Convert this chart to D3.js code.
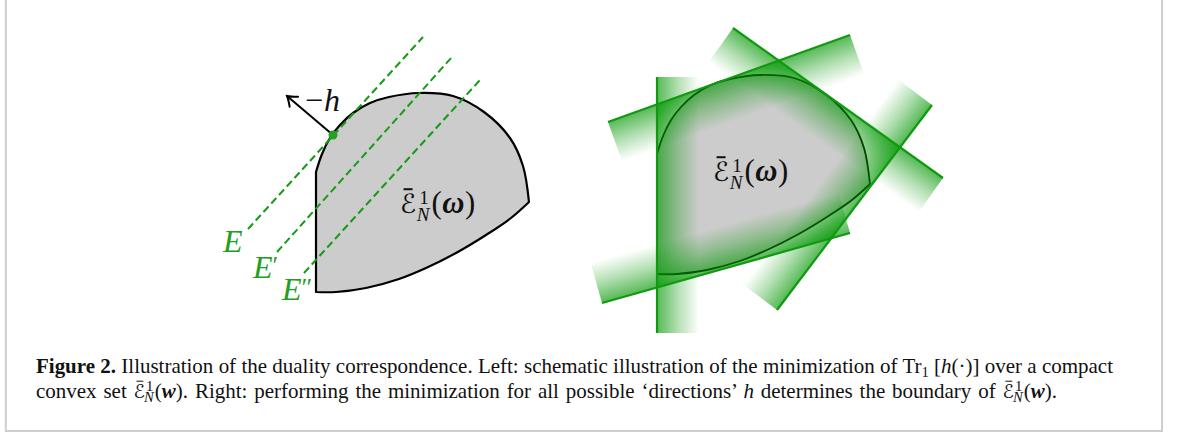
<!DOCTYPE html>
<html>
<head>
<meta charset="utf-8">
<script src="https://cdn.jsdelivr.net/npm/d3@7"></script>
<style>
  html, body { margin: 0; padding: 0; background: #ffffff; }
  svg { display: block; }
  text { white-space: pre; }
</style>
</head>
<body>
<svg id="fig" width="1179" height="436"></svg>
<script>
// ---------------------------------------------------------------
// Boundary of the convex set (schematic units, y pointing down).
// The straight left edge joins the end of lowerArc to the start of upperArc.
// ---------------------------------------------------------------
const upperArc = [[0, 80], [6, 62], [14, 46], [24, 33], [37, 21], [54, 11], [73, 5],
                  [103, 1], [137, 4], [168, 20], [194, 46], [207, 74], [213, 110]];
const lowerArc = [[213, 110], [195, 126], [170, 143], [140, 161], [110, 176],
                  [83, 187], [50, 196], [20, 200], [0, 200]];
const setCentre = [100, 110];

// Left panel: level sets E, E', E'' of the linear functional
const levelNames   = ["E", "E′", "E″"];
const levelStart   = [[-68, 137], [-39, 160], [-12, 181]];
const levelEnd     = [[107, -55], [136, -35], [164, -12]];
const levelLabelAt = [[-93, 160], [-63, 186], [-34, 208]];
const touchPoint   = [17, 43];
const arrowTip     = [-29, 4];
const arrowLabelAt = [-11, 19];
const arrowLabel   = "h";

// Right panel: supporting lines (each shades the half-plane holding the set)
const supportStart = [[0, 3], [-49, 48], [76, -46], [120, 236], [-55, 229]];
const supportEnd   = [[0, 259], [193, -39], [286, 104], [275, 31], [193, 159]];

// Where the set's name sits in each panel (schematic units, baseline)
const setLabelAt = { left: [84, 121], right: [56, 107] };

// Caption text, split into styled runs
const captionLine1 = [
  { t: "Figure 2.", k: "b" },
  { t: " Illustration of the duality correspondence. Left: schematic illustration of the minimization of Tr", k: "r" },
  { t: "1", k: "sub" },
  { t: " [", k: "r" },
  { t: "h", k: "i" },
  { t: "(·)] over a compact", k: "r" }
];
const captionLine2 = [
  { t: "convex set ", k: "r" },
  { t: "ℰ", k: "cal" },
  { t: ["1", "N"], k: "stack" },
  { t: "(", k: "r" },
  { t: "w", k: "bi" },
  { t: "). Right: performing the minimization for all possible ‘directions’ ", k: "r" },
  { t: "h", k: "i" },
  { t: " determines the boundary of ", k: "r" },
  { t: "ℰ", k: "cal" },
  { t: ["1", "N"], k: "stack" },
  { t: "(", k: "r" },
  { t: "w", k: "bi" },
  { t: ").", k: "r" }
];

// ---------------------------------------------------------------
const GREEN = "#0f9a0f";
const DASH_GREEN = "#169c16";
const LABEL_GREEN = "#1fa01f";
const SERIF = "Liberation Serif, DejaVu Serif, serif";
const CAL_FONT = "DejaVu Serif, DejaVu Sans, serif";

const svg = d3.select("#fig");
const defs = svg.append("defs");

// Frame around the figure
svg.append("path").attr("d", "M5.8,0V431H1162V0")
  .attr("stroke", "#cdcdcd").attr("stroke-width", 2).attr("fill", "none");

function panelScales(ox, oy) {
  return {
    x: d3.scaleLinear().domain([0, 214]).range([ox, ox + 214]),
    y: d3.scaleLinear().domain([0, 200]).range([oy, oy + 200])
  };
}
const leftS = panelScales(316, 92);
const rightS = panelScales(657, 74);

function shapePath(s) {
  const line = d3.line().x(d => s.x(d[0])).y(d => s.y(d[1]))
    .curve(d3.curveCatmullRom.alpha(0.5));
  const a = lowerArc[lowerArc.length - 1], b = upperArc[0];
  return `M${s.x(a[0])},${s.y(a[1])}L${s.x(b[0])},${s.y(b[1])}` +
    line(upperArc).replace(/^M/, "L") + line(lowerArc).replace(/^M/, "L") + "Z";
}

// Name of the set: barred calligraphic E with sup 1, sub N, then (omega)
function setName(g, x, base, fs, bodyChar) {
  const cal = g.append("text").attr("x", x).attr("y", base)
    .attr("font-family", CAL_FONT).attr("font-size", fs * 0.92).attr("fill", "#111").text("ℰ");
  const wc = cal.node().getComputedTextLength();
  g.append("line")
    .attr("x1", x + 0.22 * wc).attr("x2", x + 0.78 * wc)
    .attr("y1", base - 0.82 * fs).attr("y2", base - 0.82 * fs)
    .attr("stroke", "#111").attr("stroke-width", Math.max(1, fs * 0.07));
  const sfs = fs * 0.66;
  const sup = g.append("text").attr("x", x + wc + 3).attr("y", base - 0.3 * fs)
    .attr("font-family", SERIF).attr("font-size", sfs).attr("fill", "#111").text("1");
  const sub = g.append("text").attr("x", x + wc + 0.5).attr("y", base + 0.26 * fs)
    .attr("font-family", SERIF).attr("font-style", "italic").attr("font-size", sfs)
    .attr("fill", "#111").text("N");
  const ws = Math.max(sup.node().getComputedTextLength() + 3, sub.node().getComputedTextLength() + 0.5);
  const t = g.append("text").attr("x", x + wc + ws + 2).attr("y", base)
    .attr("font-family", SERIF).attr("font-size", fs * 1.06).attr("fill", "#111");
  t.append("tspan").text("(");
  t.append("tspan").attr("font-weight", "bold").attr("font-style", "italic").attr("dx", 0.5).text(bodyChar);
  t.append("tspan").attr("dx", 0.5).text(")");
}

// ---------------- Left panel ----------------
const L = svg.append("g");
L.append("path").attr("d", shapePath(leftS))
  .attr("fill", "#cccccc").attr("stroke", "#000").attr("stroke-width", 2.2)
  .attr("stroke-linejoin", "round");

levelStart.forEach((p, i) => {
  L.append("line")
    .attr("x1", leftS.x(p[0])).attr("y1", leftS.y(p[1]))
    .attr("x2", leftS.x(levelEnd[i][0])).attr("y2", leftS.y(levelEnd[i][1]))
    .attr("stroke", DASH_GREEN).attr("stroke-width", 2).attr("stroke-dasharray", "7.5,4");
  const lab = L.append("text")
    .attr("x", leftS.x(levelLabelAt[i][0])).attr("y", leftS.y(levelLabelAt[i][1]))
    .attr("font-family", SERIF).attr("font-style", "italic").attr("font-size", 32)
    .attr("fill", LABEL_GREEN);
  lab.append("tspan").text(levelNames[i][0]);
  if (levelNames[i].length > 1)
    lab.append("tspan").attr("dy", -4).attr("font-size", 26).attr("font-style", "normal").text(levelNames[i].slice(1));
});

defs.append("marker").attr("id", "head").attr("viewBox", "-12 -8 14 16")
  .attr("markerWidth", 14).attr("markerHeight", 16).attr("refX", 0).attr("refY", 0)
  .attr("orient", "auto").attr("markerUnits", "userSpaceOnUse")
  .append("path").attr("d", "M-9,-6.5Q-3,-1.5 0,0Q-3,1.5 -9,6.5")
  .attr("fill", "none").attr("stroke", "#000").attr("stroke-width", 2).attr("stroke-linecap", "round");

L.append("line")
  .attr("x1", leftS.x(touchPoint[0])).attr("y1", leftS.y(touchPoint[1]))
  .attr("x2", leftS.x(arrowTip[0])).attr("y2", leftS.y(arrowTip[1]))
  .attr("stroke", "#000").attr("stroke-width", 2).attr("marker-end", "url(#head)");
L.append("circle").attr("cx", leftS.x(touchPoint[0])).attr("cy", leftS.y(touchPoint[1]))
  .attr("r", 4.5).attr("fill", "#28a028");

const hl = L.append("text").attr("x", leftS.x(arrowLabelAt[0])).attr("y", leftS.y(arrowLabelAt[1]))
  .attr("font-family", SERIF).attr("font-size", 32).attr("fill", "#111");
hl.append("tspan").text("−");
hl.append("tspan").attr("font-style", "italic").attr("dx", 1).text(arrowLabel);

setName(L.append("g"), leftS.x(setLabelAt.left[0]), leftS.y(setLabelAt.left[1]), 29, "ω");

// ---------------- Right panel ----------------
const R = svg.append("g");
R.append("path").attr("d", shapePath(rightS))
  .attr("fill", "#cccccc").attr("stroke", "#000").attr("stroke-width", 1.8);

const bandWidth = 42;
const bands = R.append("g");
const lines = R.append("g");
supportStart.forEach((p, i) => {
  const A = [rightS.x(p[0]), rightS.y(p[1])];
  const B = [rightS.x(supportEnd[i][0]), rightS.y(supportEnd[i][1])];
  const dx = B[0] - A[0], dy = B[1] - A[1], len = Math.hypot(dx, dy);
  let n = [-dy / len, dx / len];
  const C = [rightS.x(setCentre[0]), rightS.y(setCentre[1])];
  if (n[0] * (C[0] - A[0]) + n[1] * (C[1] - A[1]) < 0) n = [-n[0], -n[1]];
  const off = [n[0] * bandWidth, n[1] * bandWidth];
  const gid = "band" + i;
  const grad = defs.append("linearGradient").attr("id", gid)
    .attr("gradientUnits", "userSpaceOnUse")
    .attr("x1", A[0]).attr("y1", A[1]).attr("x2", A[0] + off[0]).attr("y2", A[1] + off[1]);
  grad.append("stop").attr("offset", 0).attr("stop-color", "#009600").attr("stop-opacity", 0.66);
  grad.append("stop").attr("offset", 0.5).attr("stop-color", "#009600").attr("stop-opacity", 0.3);
  grad.append("stop").attr("offset", 1).attr("stop-color", "#009600").attr("stop-opacity", 0);
  bands.append("path")
    .attr("d", `M${A}L${B}L${B[0] + off[0]},${B[1] + off[1]}L${A[0] + off[0]},${A[1] + off[1]}Z`)
    .attr("fill", `url(#${gid})`);
  lines.append("line").attr("x1", A[0]).attr("y1", A[1]).attr("x2", B[0]).attr("y2", B[1])
    .attr("stroke", GREEN).attr("stroke-width", 2.2);
});

setName(R.append("g"), rightS.x(setLabelAt.right[0]), rightS.y(setLabelAt.right[1]), 29, "ω");

// ---------------- Caption ----------------
function captionLine(segs, x0, base, fs, target) {
  const g = svg.append("g").attr("font-family", SERIF).attr("fill", "#111");
  const items = [];
  const mk = (txt, size, style, weight, fam) => g.append("text").attr("y", base)
    .attr("font-size", size).attr("font-style", style || "normal")
    .attr("font-weight", weight || "normal").attr("font-family", fam || SERIF).text(txt);
  segs.forEach(s => {
    if (s.k === "stack") {
      const a = mk(s.t[0], fs * 0.7).attr("y", base - fs * 0.33);
      const b = mk(s.t[1], fs * 0.7, "italic").attr("y", base + fs * 0.2);
      items.push({ els: [a, b], w: Math.max(a.node().getComputedTextLength() + 1, b.node().getComputedTextLength()), sp: 0, offs: [1, -1] });
    } else if (s.k === "sub") {
      const a = mk(s.t, fs * 0.7).attr("y", base + fs * 0.2);
      items.push({ els: [a], w: a.node().getComputedTextLength(), sp: 0, offs: [0] });
    } else if (s.k === "cal") {
      const a = mk(s.t, fs * 0.9, "normal", "normal", CAL_FONT);
      items.push({ els: [a], w: a.node().getComputedTextLength(), sp: 0, offs: [0], bar: true, fs: fs });
    } else {
      const a = mk(s.t, fs, s.k === "i" || s.k === "bi" ? "italic" : "normal",
        s.k === "b" || s.k === "bi" ? "bold" : "normal");
      items.push({ els: [a], w: a.node().getComputedTextLength(), sp: (s.t.match(/ /g) || []).length, offs: [0] });
    }
  });
  const nat = d3.sum(items, d => d.w), nsp = d3.sum(items, d => d.sp);
  const extra = target ? (target - nat) / nsp : 0;
  let x = x0;
  items.forEach(it => {
    it.els.forEach((e, j) => e.attr("x", x + it.offs[j]).style("word-spacing", extra + "px"));
    if (it.bar) {
      g.append("line").attr("x1", x + 0.25 * it.w).attr("x2", x + 0.85 * it.w)
        .attr("y1", base - 0.8 * it.fs).attr("y2", base - 0.8 * it.fs)
        .attr("stroke", "#111").attr("stroke-width", 1);
    }
    x += it.w + it.sp * extra;
  });
  return { g: g, nat: nat };
}

// caption size chosen so the justified first line fills its measure
const capX = 36;
const trial = captionLine(captionLine1, 0, -100, 20, 0);
trial.g.remove();
const capFs = Math.min(21, Math.max(17, 20 * 1077 / trial.nat));
captionLine(captionLine1, capX, 373, capFs, 1077);
captionLine(captionLine2, capX, 398, capFs, 1021);
</script>
</body>
</html>
